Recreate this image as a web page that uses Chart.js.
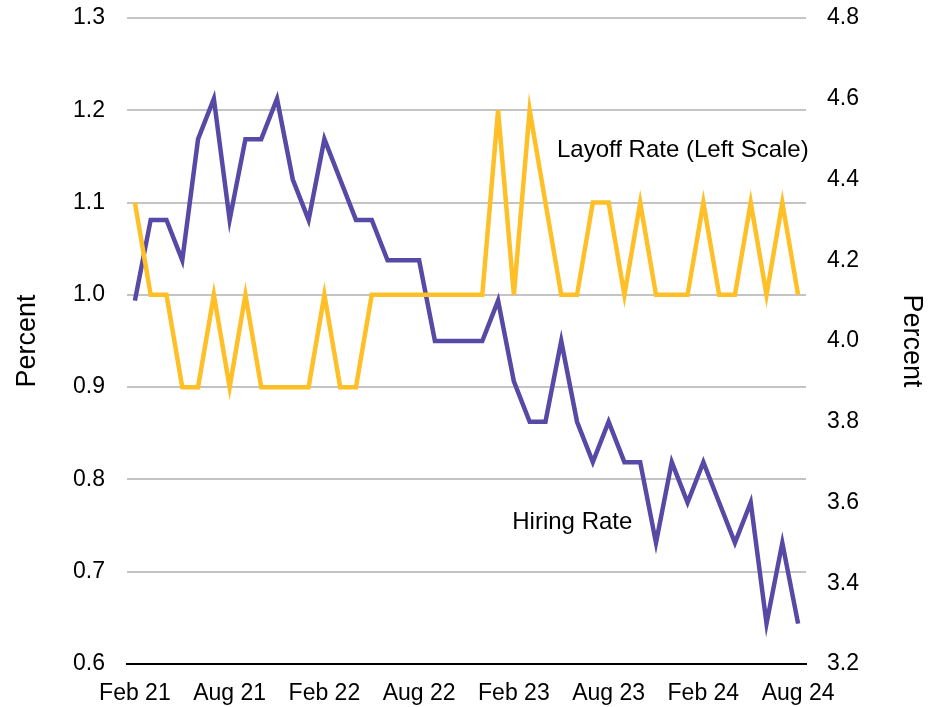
<!DOCTYPE html>
<html lang="en">
  <head>
    <meta charset="UTF-8">
    <title>Hiring and layoff rates</title>
    <style>
      body { margin: 0; background: #fff; }
    </style>
    <script src="https://cdn.jsdelivr.net/npm/chart.js"></script>
  </head>

  <body>
    <canvas id="myChart" width="943" height="707"></canvas>

<script>
  const months = [
    'Feb 21', 'Mar 21', 'Apr 21', 'May 21', 'Jun 21', 'Jul 21', 'Aug 21', 'Sep 21', 'Oct 21', 'Nov 21', 'Dec 21',
    'Jan 22', 'Feb 22', 'Mar 22', 'Apr 22', 'May 22', 'Jun 22', 'Jul 22', 'Aug 22', 'Sep 22', 'Oct 22', 'Nov 22', 'Dec 22',
    'Jan 23', 'Feb 23', 'Mar 23', 'Apr 23', 'May 23', 'Jun 23', 'Jul 23', 'Aug 23', 'Sep 23', 'Oct 23', 'Nov 23', 'Dec 23',
    'Jan 24', 'Feb 24', 'Mar 24', 'Apr 24', 'May 24', 'Jun 24', 'Jul 24', 'Aug 24'
  ];
  const tickLabels = ['Feb 21', 'Aug 21', 'Feb 22', 'Aug 22', 'Feb 23', 'Aug 23', 'Feb 24', 'Aug 24'];

  // left scale
  const layoffRate = [
    1.1, 1.0, 1.0, 0.9, 0.9, 1.0, 0.9, 1.0, 0.9, 0.9, 0.9,
    0.9, 1.0, 0.9, 0.9, 1.0, 1.0, 1.0, 1.0, 1.0, 1.0, 1.0, 1.0,
    1.2, 1.0, 1.2, 1.1, 1.0, 1.0, 1.1, 1.1, 1.0, 1.1, 1.0, 1.0,
    1.0, 1.1, 1.0, 1.0, 1.1, 1.0, 1.1, 1.0
  ];
  // right scale
  const hiringRate = [
    4.1, 4.3, 4.3, 4.2, 4.5, 4.6, 4.3, 4.5, 4.5, 4.6, 4.4,
    4.3, 4.5, 4.4, 4.3, 4.3, 4.2, 4.2, 4.2, 4.0, 4.0, 4.0, 4.0,
    4.1, 3.9, 3.8, 3.8, 4.0, 3.8, 3.7, 3.8, 3.7, 3.7, 3.5, 3.7,
    3.6, 3.7, 3.6, 3.5, 3.6, 3.3, 3.5, 3.3
  ];

  // text labels placed in data units: [x index, left-scale value]
  const notes = [
    { text: 'Layoff Rate (Left Scale)', x: 34.7, y: 1.157 },
    { text: 'Hiring Rate', x: 27.7, y: 0.754 }
  ];

  const font = 'Liberation Sans, Arial, sans-serif';

  const notePlugin = {
    id: 'notes',
    afterDatasetsDraw(chart) {
      const c = chart.ctx;
      const xs = chart.scales.x, ys = chart.scales.y;
      c.save();
      c.font = '24px ' + font;
      c.fillStyle = '#000';
      c.textAlign = 'center';
      c.textBaseline = 'middle';
      notes.forEach(n => c.fillText(n.text, xs.getPixelForValue(n.x), ys.getPixelForValue(n.y)));
      c.restore();
    }
  };

  // fix axis sizes so the plot area lands where the original has it
  function fitY(w) {
    return function (scale) {
      scale.width = w;
      scale.paddingTop = 18;
      scale.paddingBottom = 0;
    };
  }

  const ctx = document.getElementById('myChart');

  new Chart(ctx, {
    type: 'line',
    data: {
      labels: months,
      datasets: [
        {
          label: 'Layoff Rate',
          data: layoffRate,
          borderColor: '#FFBF27',
          borderWidth: 4.5,
          pointRadius: 0,
          tension: 0,
          yAxisID: 'y'
        },
        {
          label: 'Hiring Rate',
          data: hiringRate,
          borderColor: '#574AA6',
          borderWidth: 4.5,
          pointRadius: 0,
          tension: 0,
          yAxisID: 'y1'
        }
      ]
    },
    options: {
      responsive: false,
      animation: false,
      layout: { padding: 0 },
      plugins: {
        legend: { display: false },
        tooltip: { enabled: false }
      },
      scales: {
        x: {
          offset: true,
          grid: { display: false, drawTicks: false },
          border: { display: true, color: '#000', width: 2 },
          afterFit: s => { s.height = 43; },
          ticks: {
            autoSkip: false,
            maxRotation: 0,
            padding: 16,
            color: '#000',
            font: { family: font, size: 23 },
            callback: (v, i) => tickLabels.includes(months[i]) ? months[i] : ''
          }
        },
        y: {
          position: 'left',
          min: 0.6,
          max: 1.3,
          afterFit: fitY(127),
          grid: {
            color: c => c.tick && Math.abs(c.tick.value - 0.6) < 1e-6 ? 'rgba(0,0,0,0)' : '#C4C4C4',
            lineWidth: 2,
            drawTicks: false
          },
          border: { display: false },
          ticks: {
            stepSize: 0.1,
            padding: 22,
            color: '#000',
            font: { family: font, size: 23 },
            callback: v => v.toFixed(1)
          },
          title: {
            display: true,
            text: 'Percent',
            color: '#000',
            font: { family: font, size: 27 },
            padding: { top: 11, bottom: 0 }
          }
        },
        y1: {
          position: 'right',
          min: 3.2,
          max: 4.8,
          afterFit: fitY(137),
          grid: { drawOnChartArea: false, drawTicks: false },
          border: { display: false },
          ticks: {
            stepSize: 0.2,
            padding: 21,
            color: '#000',
            font: { family: font, size: 23 },
            callback: v => v.toFixed(1)
          },
          title: {
            display: true,
            text: 'Percent',
            color: '#000',
            font: { family: font, size: 27 },
            padding: { top: 15, bottom: 0 }
          }
        }
      }
    },
    plugins: [notePlugin]
  });
</script>

  </body>
</html>
